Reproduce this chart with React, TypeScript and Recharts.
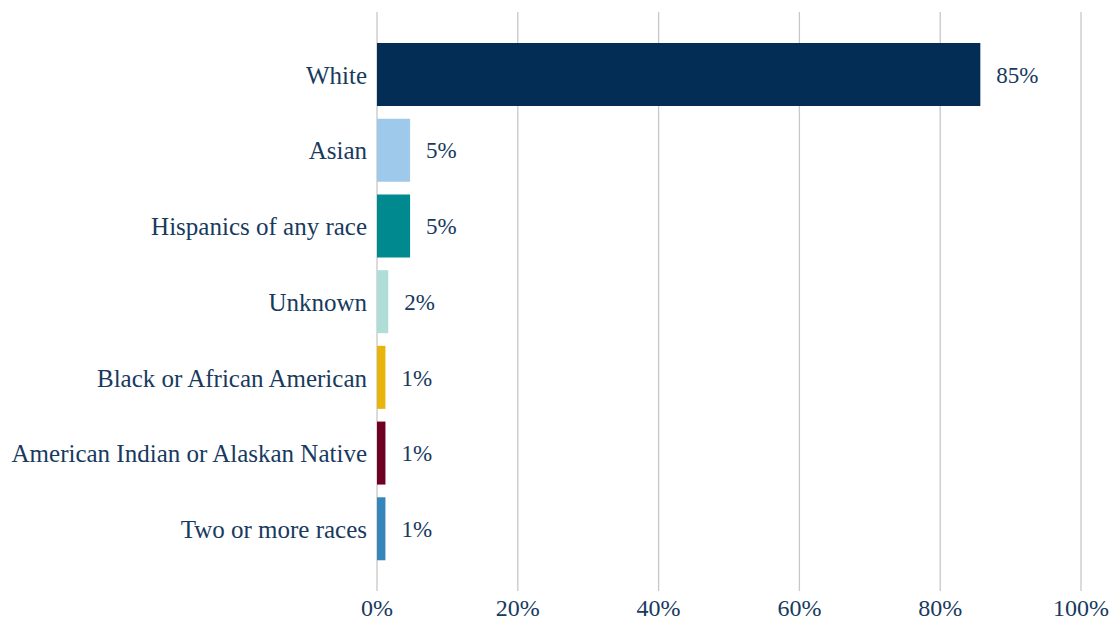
import React from 'react';
import { BarChart, Bar, XAxis, YAxis, CartesianGrid, Cell, LabelList } from 'recharts';

const groups = [
  'White',
  'Asian',
  'Hispanics of any race',
  'Unknown',
  'Black or African American',
  'American Indian or Alaskan Native',
  'Two or more races',
];
const shares = [85.7, 4.7, 4.7, 1.6, 1.2, 1.2, 1.2];
const shareLabels = ['85%', '5%', '5%', '2%', '1%', '1%', '1%'];
const barColors = ['#032d54', '#9fc9eb', '#008a8f', '#b1ddd8', '#e8b50c', '#6e0022', '#3786b9'];
const xTicks = [0, 20, 40, 60, 80, 100];

const TEXT = '#173a5e';
const FONT = '"Liberation Serif", "DejaVu Serif", serif';

const data = groups.map((g, i) => ({ group: g, share: shares[i], label: shareLabels[i] }));

export default function App() {
  return (
    <div style={{ position: 'absolute', left: 0, top: 0, background: '#fff', fontFamily: FONT }}>
      <BarChart
        width={1116}
        height={621}
        data={data}
        layout="vertical"
        margin={{ top: 12, right: 35, left: 0, bottom: 0 }}
      >
        <CartesianGrid horizontal={false} stroke="#c8c8c8" strokeWidth={1.3} />
        <XAxis
          type="number"
          domain={[0, 100]}
          ticks={xTicks}
          tickFormatter={(v: number) => `${v}%`}
          axisLine={false}
          tickLine={false}
          height={30}
          tick={{ fill: TEXT, fontSize: 24, fontFamily: FONT }}
        />
        <YAxis
          type="category"
          dataKey="group"
          width={377}
          padding={{ top: 25, bottom: 24 }}
          axisLine={false}
          tickLine={false}
          tickMargin={4}
          interval={0}
          tick={{ fill: TEXT, fontSize: 25, fontFamily: FONT }}
        />
        <Bar dataKey="share" barSize={63} isAnimationActive={false}>
          {data.map((d, i) => (
            <Cell key={d.group} fill={barColors[i]} />
          ))}
          <LabelList
            dataKey="label"
            position="right"
            offset={16}
            fill={TEXT}
            fontSize={23}
            fontFamily={FONT}
          />
        </Bar>
      </BarChart>
    </div>
  );
}
